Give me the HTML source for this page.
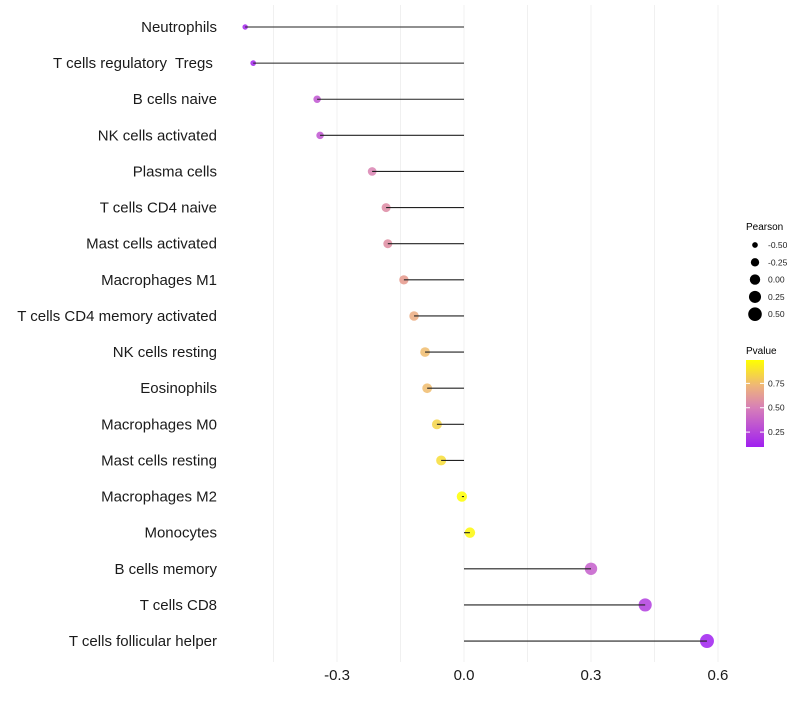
<!DOCTYPE html>
<html><head><meta charset="utf-8"><style>
body{margin:0;background:#fff;font-family:"Liberation Sans",sans-serif;}
svg text{font-family:"Liberation Sans",sans-serif;white-space:pre;}
</style></head><body>
<svg id="chart" width="800" height="700">
<defs><linearGradient id="pg" x1="0" y1="1" x2="0" y2="0">
<stop offset="0" stop-color="#a020f0"/><stop offset="0.45" stop-color="#d77fb8"/><stop offset="0.7" stop-color="#eeb47a"/><stop offset="1" stop-color="#ffff00"/></linearGradient></defs>
<g id="grid"></g>
<g id="points"></g>
<g id="marks"></g>
<g id="labels"></g>
<g id="xaxis"></g>
<g>
<text x="746" y="230" font-size="10" fill="#000">Pearson</text>
<g id="sizeleg"></g>
</g>
<g>
<text x="746" y="354" font-size="10" fill="#000">Pvalue</text>
<rect x="746" y="360" width="18" height="87" fill="url(#pg)"/>
<g id="colleg"></g>
</g>
</svg>
<script>
const categories=["Neutrophils","T cells regulatory  Tregs ","B cells naive","NK cells activated","Plasma cells","T cells CD4 naive","Mast cells activated","Macrophages M1","T cells CD4 memory activated","NK cells resting","Eosinophils","Macrophages M0","Mast cells resting","Macrophages M2","Monocytes","B cells memory","T cells CD8","T cells follicular helper"];
const pearson=[-0.517,-0.498,-0.347,-0.340,-0.217,-0.184,-0.180,-0.142,-0.118,-0.092,-0.087,-0.064,-0.054,-0.005,0.014,0.300,0.428,0.574];
const pvalue=[0.12,0.12,0.32,0.32,0.52,0.57,0.58,0.66,0.73,0.79,0.79,0.86,0.89,0.99,0.97,0.36,0.22,0.10];
const xTicks=[-0.3,0.0,0.3,0.6];
const xTickLabels=["-0.3","0.0","0.3","0.6"];
const minorTicks=[-0.45,-0.15,0.15,0.45];
const sizeLegVals=[-0.5,-0.25,0,0.25,0.5];
const sizeLegLabels=["-0.50","-0.25","0.00","0.25","0.50"];
const colLegVals=[0.25,0.5,0.75];
const colLegLabels=["0.25","0.50","0.75"];

const NS="http://www.w3.org/2000/svg";
const x=v=>464+v*423.3;
const y=i=>27+i*36.12;
const r=p=>Math.sqrt(Math.max(3,27+38*p));
const stops=[[0,[160,32,240]],[0.45,[215,127,184]],[0.62,[228,150,140]],[0.75,[238,180,122]],[1,[255,255,0]]];
const pmin=0.097,pmax=0.99;
function col(p){let t=(p-pmin)/(pmax-pmin);t=Math.max(0,Math.min(1,t));
 for(let k=1;k<stops.length;k++){if(t<=stops[k][0]){const a=stops[k-1],b=stops[k];const u=(t-a[0])/(b[0]-a[0]);
 return "rgb("+a[1].map((c,j)=>Math.round(c+(b[1][j]-c)*u)).join(",")+")";}}return "rgb(255,255,0)";}
function mk(tag,attrs,parent){const e=document.createElementNS(NS,tag);for(const k in attrs)e.setAttribute(k,attrs[k]);parent.appendChild(e);return e;}
const grid=document.getElementById('grid'),marks=document.getElementById('marks'),points=document.getElementById('points'),labels=document.getElementById('labels'),xaxis=document.getElementById('xaxis');
minorTicks.concat(xTicks).forEach(v=>{const l=mk('line',{x1:x(v),x2:x(v),y1:5,y2:662,stroke:'#f0f0f0','stroke-width':1},grid);

});
xTicks.forEach((v,i)=>{const t=mk('text',{x:x(v),y:680,'text-anchor':'middle','font-size':15,fill:'#1a1a1a'},xaxis);t.textContent=xTickLabels[i];

});
categories.forEach((c,i)=>{
 const d=mk('circle',{cx:x(pearson[i]),cy:y(i),r:r(pearson[i]),fill:col(pvalue[i]),'fill-opacity':0.85},points);
 
 
 const l=mk('line',{x1:x(0),x2:x(pearson[i]),y1:y(i),y2:y(i),stroke:'#222','stroke-width':1.1},marks);
 
 
 const t=mk('text',{x:217,y:y(i)+5,'text-anchor':'end','font-size':15,fill:'#1a1a1a'},labels);t.textContent=c;
 
 
});
const sl=document.getElementById('sizeleg');
sizeLegVals.forEach((v,i)=>{const cy=245+i*17.3;const c=mk('circle',{cx:755,cy:cy,r:r(v),fill:'#000'},sl);


const t=mk('text',{x:768,y:cy+3,'font-size':8.5,fill:'#222'},sl);t.textContent=sizeLegLabels[i];

});
const cl=document.getElementById('colleg');
colLegVals.forEach((v,i)=>{const cy=447-(v-pmin)/(pmax-pmin)*87;
const t=mk('text',{x:768,y:cy+3,'font-size':8.5,fill:'#222'},cl);t.textContent=colLegLabels[i];


const a=mk('line',{x1:746,x2:750,y1:cy,y2:cy,stroke:'#fff'},cl);


const b=mk('line',{x1:760,x2:764,y1:cy,y2:cy,stroke:'#fff'},cl);

});
</script>
</body></html>
